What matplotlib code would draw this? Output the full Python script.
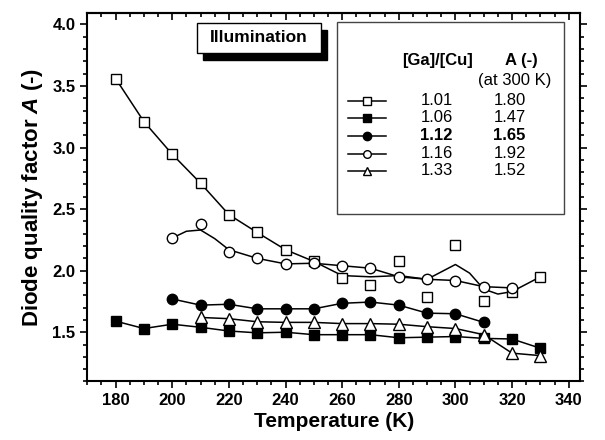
import matplotlib
matplotlib.use('Agg')
import matplotlib.pyplot as plt
from matplotlib.ticker import MultipleLocator, FormatStrFormatter
from matplotlib.patches import Rectangle

plt.rcParams['font.family'] = ['Liberation Sans', 'DejaVu Sans']
plt.rcParams['mathtext.fontset'] = 'custom'
plt.rcParams['mathtext.rm'] = 'Liberation Sans:bold'
plt.rcParams['mathtext.it'] = 'Liberation Sans:bold:italic'
plt.rcParams['mathtext.bf'] = 'Liberation Sans:bold'

# Ga/Cu = 1.01 (open squares)
t_sq_open = [180, 190, 200, 210, 220, 230, 240, 250, 260, 270, 280, 290, 300, 310, 320, 330]
a_sq_open = [3.56, 3.21, 2.945, 2.71, 2.455, 2.31, 2.17, 2.075, 1.94, 1.885, 2.08, 1.79, 2.21, 1.755, 1.83, 1.95]
# fitted curve drawn through the open squares
t_sq_fit = [180, 190, 200, 210, 220, 230, 240, 250, 260, 270, 280, 290, 295, 300, 305, 310, 315, 320, 330]
a_sq_fit = [3.56, 3.21, 2.945, 2.71, 2.455, 2.31, 2.17, 2.075, 1.96, 1.95, 1.96, 1.93, 1.99, 2.05, 1.98, 1.85, 1.81, 1.83, 1.95]

# Ga/Cu = 1.06 (filled squares)
t_sq_fill = [180, 190, 200, 210, 220, 230, 240, 250, 260, 270, 280, 290, 300, 310, 320, 330]
a_sq_fill = [1.59, 1.53, 1.565, 1.54, 1.51, 1.495, 1.50, 1.48, 1.48, 1.48, 1.455, 1.46, 1.465, 1.45, 1.445, 1.37]

# Ga/Cu = 1.12 (filled circles)
t_ci_fill = [200, 210, 220, 230, 240, 250, 260, 270, 280, 290, 300, 310]
a_ci_fill = [1.77, 1.72, 1.727, 1.69, 1.69, 1.69, 1.735, 1.745, 1.72, 1.655, 1.65, 1.58]

# Ga/Cu = 1.16 (open circles)
t_ci_open = [200, 210, 220, 230, 240, 250, 260, 270, 280, 290, 300, 310, 320]
a_ci_open = [2.265, 2.375, 2.155, 2.10, 2.055, 2.06, 2.04, 2.02, 1.95, 1.93, 1.92, 1.87, 1.86]
t_ci_fit = [200, 205, 210, 215, 220, 230, 240, 250, 260, 270, 280, 290, 300, 310, 320]
a_ci_fit = [2.265, 2.32, 2.33, 2.26, 2.17, 2.10, 2.055, 2.06, 2.04, 2.02, 1.95, 1.93, 1.92, 1.87, 1.86]

# Ga/Cu = 1.33 (open triangles)
t_tri = [210, 220, 230, 240, 250, 260, 270, 280, 290, 300, 310, 320, 330]
a_tri = [1.62, 1.61, 1.585, 1.58, 1.58, 1.57, 1.57, 1.565, 1.545, 1.53, 1.48, 1.33, 1.31]

legend_ratio = ['1.01', '1.06', '1.12', '1.16', '1.33']
legend_a300 = ['1.80', '1.47', '1.65', '1.92', '1.52']
legend_markers = [('s', 'white'), ('s', 'black'), ('o', 'black'), ('o', 'white'), ('^', 'white')]

fig = plt.figure(figsize=(6.05, 4.4), dpi=100)
ax = fig.add_axes([0.1443, 0.133, 0.8144, 0.8368])

lw = 1.1
ms = 7
ax.plot(t_sq_fit, a_sq_fit, '-', color='black', lw=lw, zorder=2)
ax.plot(t_sq_open, a_sq_open, 's', mfc='white', mec='black', ms=ms, mew=1.0, zorder=3)
ax.plot(t_sq_fill, a_sq_fill, '-s', color='black', mfc='black', ms=ms, lw=lw, zorder=3)
ax.plot(t_ci_fill, a_ci_fill, '-o', color='black', mfc='black', ms=ms + 0.5, lw=lw, zorder=3)
ax.plot(t_ci_fit, a_ci_fit, '-', color='black', lw=lw, zorder=2)
ax.plot(t_ci_open, a_ci_open, 'o', mfc='white', mec='black', ms=ms + 0.5, mew=1.0, zorder=4)
ax.plot(t_tri, a_tri, '-^', color='black', mfc='white', ms=ms + 1, mew=1.0, lw=lw, zorder=3)

ax.set_xlim(170, 344)
ax.set_ylim(1.1, 4.09)
ax.xaxis.set_major_locator(MultipleLocator(20))
ax.xaxis.set_minor_locator(MultipleLocator(5))
ax.yaxis.set_major_locator(MultipleLocator(0.5))
ax.yaxis.set_minor_locator(MultipleLocator(0.1))
ax.yaxis.set_major_formatter(FormatStrFormatter('%.1f'))

for s in ax.spines.values():
    s.set_linewidth(1.5)
ax.tick_params(which='both', direction='out', top=False, right=True, width=1.2)
ax.tick_params(which='major', length=5)
ax.tick_params(which='minor', length=3)

# top ticks point inward
top = ax.secondary_xaxis('top')
top.xaxis.set_major_locator(MultipleLocator(20))
top.xaxis.set_minor_locator(MultipleLocator(5))
top.tick_params(which='both', direction='in', width=1.2, labeltop=False)
top.tick_params(which='major', length=5)
top.tick_params(which='minor', length=3)
top.spines['top'].set_linewidth(1.5)

for lab in ax.get_xticklabels() + ax.get_yticklabels():
    lab.set_fontweight('bold')
    lab.set_fontsize(12)

ax.set_xlabel('Temperature (K)', fontsize=15, fontweight='bold', labelpad=3)
ax.set_ylabel('Diode quality factor $A$ (-)', fontsize=16, fontweight='bold', labelpad=5)

# Illumination box with shadow
ax.add_patch(Rectangle((210.7, 3.71), 44, 0.245, facecolor='black', edgecolor='black',
                       zorder=5, clip_on=False))
ax.add_patch(Rectangle((208.6, 3.765), 44, 0.245, facecolor='white', edgecolor='black',
                       lw=1.0, zorder=6, clip_on=False))
ax.text(230.6, 3.89, 'Illumination', ha='center', va='center', fontsize=12.5,
        fontweight='bold', zorder=7)

# legend table box
ax.add_patch(Rectangle((258.1, 2.458), 80.1, 1.558, facecolor='white', edgecolor='#444444',
                       lw=1.0, zorder=5))
ax.text(293.7, 3.706, '[Ga]/[Cu]', ha='center', va='center', fontsize=12,
        fontweight='bold', zorder=7)
ax.text(323.3, 3.706, 'A (-)', ha='center', va='center', fontsize=12,
        fontweight='bold', zorder=7)
ax.text(320.9, 3.543, '(at 300 K)', ha='center', va='center', fontsize=12, zorder=7)
row_y = [3.38, 3.24, 3.095, 2.948, 2.81]
for yy, r, a, (m, fc) in zip(row_y, legend_ratio, legend_a300, legend_markers):
    ax.plot([261.9, 275.6], [yy, yy], '-', color='black', lw=lw, zorder=7)
    ax.plot([268.6], [yy], m, mfc=fc, mec='black', ms=5.5 if fc == 'white' else 6,
            mew=1.0, zorder=8)
    w = 'bold' if r == '1.12' else 'normal'
    ax.text(293.3, yy, r, ha='center', va='center', fontsize=12, fontweight=w, zorder=7)
    ax.text(319.1, yy, a, ha='center', va='center', fontsize=12, fontweight=w, zorder=7)

fig.savefig('out.png', dpi=100)
